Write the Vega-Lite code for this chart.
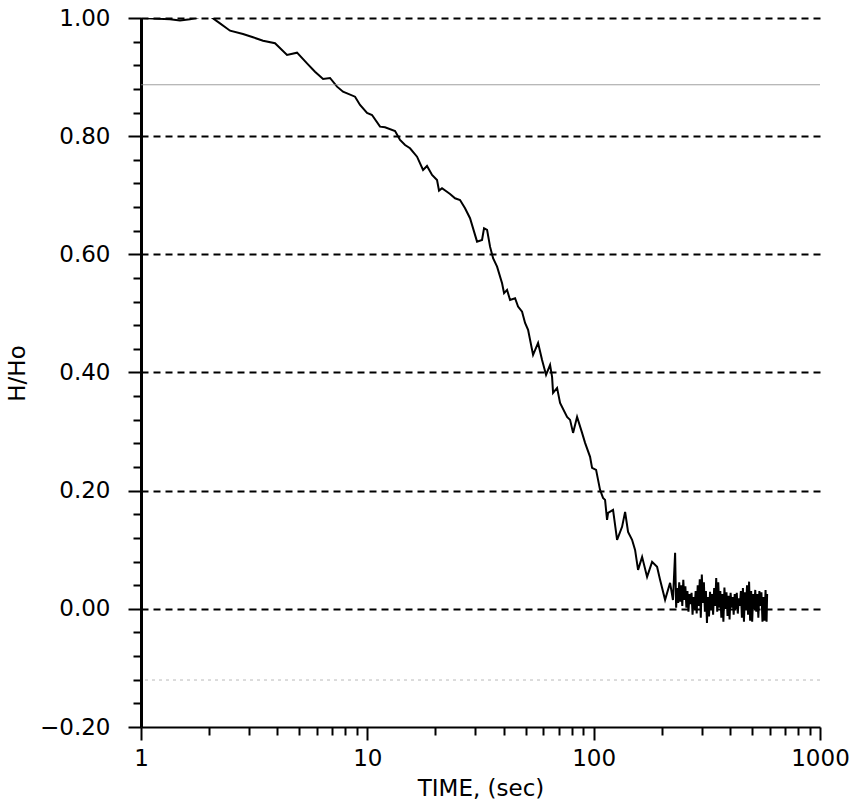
{
  "$schema": "https://vega.github.io/schema/vega-lite/v6.json",
  "width": 679,
  "height": 709,
  "autosize": {"type": "none"},
  "padding": {"left": 141, "top": 18, "right": 38, "bottom": 79},
  "background": "white",
  "config": {"view": {"stroke": null}, "font": "DejaVu Sans"},
  "datasets": {
    "curve": [
      {"t": 1.0, "h": 1.0}, {"t": 1.343, "h": 0.9978}, {"t": 1.487, "h": 0.9959}, {"t": 1.646, "h": 0.9978},
      {"t": 1.823, "h": 1.002}, {"t": 2.018, "h": 1.003}, {"t": 2.234, "h": 0.991}, {"t": 2.474, "h": 0.9785},
      {"t": 2.823, "h": 0.9729}, {"t": 3.126, "h": 0.9673}, {"t": 3.461, "h": 0.9616}, {"t": 3.91, "h": 0.9572},
      {"t": 4.418, "h": 0.9374}, {"t": 4.891, "h": 0.9413}, {"t": 5.414, "h": 0.9233}, {"t": 5.872, "h": 0.9091},
      {"t": 6.373, "h": 0.8968}, {"t": 6.842, "h": 0.8985}, {"t": 7.348, "h": 0.8838}, {"t": 7.809, "h": 0.8753},
      {"t": 8.823, "h": 0.8668}, {"t": 9.286, "h": 0.8528}, {"t": 9.97, "h": 0.8393}, {"t": 10.49, "h": 0.8359},
      {"t": 11.38, "h": 0.8161}, {"t": 11.97, "h": 0.8151}, {"t": 13.26, "h": 0.8088}, {"t": 13.95, "h": 0.7936},
      {"t": 14.68, "h": 0.7851}, {"t": 15.44, "h": 0.7795}, {"t": 16.58, "h": 0.7653}, {"t": 17.63, "h": 0.7428},
      {"t": 18.35, "h": 0.7496}, {"t": 19.32, "h": 0.7343}, {"t": 20.32, "h": 0.7259}, {"t": 20.74, "h": 0.7078},
      {"t": 21.38, "h": 0.7118}, {"t": 23.2, "h": 0.7022}, {"t": 24.41, "h": 0.6949}, {"t": 25.68, "h": 0.692},
      {"t": 27.02, "h": 0.678}, {"t": 28.43, "h": 0.6611}, {"t": 30.53, "h": 0.6215}, {"t": 32.12, "h": 0.6244},
      {"t": 32.78, "h": 0.6442}, {"t": 33.81, "h": 0.6413}, {"t": 34.85, "h": 0.613}, {"t": 35.94, "h": 0.5934},
      {"t": 37.43, "h": 0.5792}, {"t": 39.38, "h": 0.5511}, {"t": 40.19, "h": 0.5342}, {"t": 41.43, "h": 0.5398},
      {"t": 42.72, "h": 0.5228}, {"t": 44.95, "h": 0.5257}, {"t": 46.34, "h": 0.5115}, {"t": 48.27, "h": 0.503},
      {"t": 49.77, "h": 0.4839}, {"t": 51.31, "h": 0.4721}, {"t": 53.99, "h": 0.4298}, {"t": 56.81, "h": 0.4501},
      {"t": 59.16, "h": 0.4213}, {"t": 61.62, "h": 0.3959}, {"t": 64.18, "h": 0.4129}, {"t": 65.5, "h": 0.3926},
      {"t": 66.17, "h": 0.3655}, {"t": 68.92, "h": 0.3739}, {"t": 71.05, "h": 0.3486}, {"t": 76.3, "h": 0.3249},
      {"t": 78.66, "h": 0.3198}, {"t": 81.1, "h": 0.2978}, {"t": 84.47, "h": 0.3249}, {"t": 88.88, "h": 0.2978},
      {"t": 91.63, "h": 0.2809}, {"t": 96.41, "h": 0.2572}, {"t": 98.38, "h": 0.2386}, {"t": 102.5, "h": 0.2352},
      {"t": 106.7, "h": 0.2014}, {"t": 110.0, "h": 0.1878}, {"t": 112.3, "h": 0.1844}, {"t": 114.6, "h": 0.1506},
      {"t": 115.8, "h": 0.1624}, {"t": 121.8, "h": 0.1675}, {"t": 126.9, "h": 0.1168}, {"t": 133.5, "h": 0.1388},
      {"t": 137.7, "h": 0.1641}, {"t": 141.9, "h": 0.1303}, {"t": 147.8, "h": 0.1168}, {"t": 152.4, "h": 0.0998},
      {"t": 157.1, "h": 0.066}, {"t": 163.7, "h": 0.088}, {"t": 172.2, "h": 0.0541}, {"t": 181.2, "h": 0.0795},
      {"t": 190.6, "h": 0.0711}, {"t": 196.5, "h": 0.0491}, {"t": 206.8, "h": 0.0152}, {"t": 217.6, "h": 0.044},
      {"t": 224.0, "h": 0.015},
      {"t": 229.0, "h": 0.095}, {"t": 231.4, "h": 0.002}, {"t": 233.8, "h": 0.035}, {"t": 236.3, "h": 0.01},
      {"t": 238.8, "h": 0.045}, {"t": 241.3, "h": 0.012}, {"t": 243.8, "h": 0.04}, {"t": 246.4, "h": 0.005},
      {"t": 248.9, "h": 0.049}, {"t": 251.6, "h": 0.015}, {"t": 254.2, "h": 0.038}, {"t": 256.9, "h": 0.002},
      {"t": 259.6, "h": 0.03}, {"t": 262.3, "h": -0.005}, {"t": 265.1, "h": 0.025}, {"t": 267.8, "h": 0.008},
      {"t": 270.7, "h": 0.027}, {"t": 273.5, "h": -0.01}, {"t": 276.4, "h": 0.02}, {"t": 279.3, "h": 0.0},
      {"t": 282.2, "h": 0.03}, {"t": 285.2, "h": -0.008}, {"t": 288.2, "h": 0.04}, {"t": 291.2, "h": 0.005},
      {"t": 294.3, "h": 0.05}, {"t": 297.4, "h": -0.015}, {"t": 300.5, "h": 0.058}, {"t": 303.7, "h": 0.01},
      {"t": 306.9, "h": 0.045}, {"t": 310.1, "h": -0.005}, {"t": 313.3, "h": 0.03}, {"t": 316.6, "h": -0.024},
      {"t": 320.0, "h": 0.02}, {"t": 323.3, "h": -0.013}, {"t": 326.7, "h": 0.029}, {"t": 330.2, "h": 0.0},
      {"t": 333.6, "h": 0.025}, {"t": 337.1, "h": -0.01}, {"t": 340.7, "h": 0.035}, {"t": 344.3, "h": 0.005},
      {"t": 347.9, "h": 0.052}, {"t": 351.5, "h": -0.005}, {"t": 355.2, "h": 0.045}, {"t": 358.9, "h": 0.002},
      {"t": 362.7, "h": 0.03}, {"t": 366.5, "h": -0.015}, {"t": 370.4, "h": 0.025}, {"t": 374.3, "h": -0.022},
      {"t": 378.2, "h": 0.036}, {"t": 382.2, "h": 0.0}, {"t": 386.2, "h": 0.028}, {"t": 390.3, "h": -0.012},
      {"t": 394.4, "h": 0.022}, {"t": 398.5, "h": -0.018}, {"t": 402.7, "h": 0.027}, {"t": 406.9, "h": 0.002},
      {"t": 411.2, "h": 0.02}, {"t": 415.5, "h": -0.01}, {"t": 419.9, "h": 0.025}, {"t": 424.3, "h": 0.0},
      {"t": 428.8, "h": 0.027}, {"t": 433.3, "h": -0.008}, {"t": 437.8, "h": 0.018}, {"t": 442.4, "h": 0.005},
      {"t": 447.1, "h": 0.03}, {"t": 451.8, "h": -0.015}, {"t": 456.5, "h": 0.035}, {"t": 461.3, "h": -0.022},
      {"t": 466.2, "h": 0.028}, {"t": 471.1, "h": 0.0}, {"t": 476.0, "h": 0.04}, {"t": 481.0, "h": -0.01},
      {"t": 486.1, "h": 0.046}, {"t": 491.2, "h": -0.02}, {"t": 496.4, "h": 0.03}, {"t": 501.6, "h": -0.022},
      {"t": 506.9, "h": 0.025}, {"t": 512.2, "h": 0.0}, {"t": 517.6, "h": 0.032}, {"t": 523.0, "h": -0.005},
      {"t": 528.5, "h": 0.025}, {"t": 534.1, "h": -0.015}, {"t": 539.7, "h": 0.03}, {"t": 545.4, "h": 0.005},
      {"t": 551.1, "h": 0.028}, {"t": 556.9, "h": -0.022}, {"t": 562.8, "h": 0.02}, {"t": 568.7, "h": -0.02},
      {"t": 574.7, "h": 0.032}, {"t": 580.7, "h": -0.022}, {"t": 584.0, "h": 0.025}
    ]
  },
  "layer": [
    {
      "data": {"name": "curve"},
      "mark": {"type": "line", "color": "black", "strokeWidth": 2, "clip": true},
      "encoding": {
        "x": {
          "field": "t",
          "type": "quantitative",
          "scale": {"type": "log", "domain": [1, 1000], "nice": false},
          "axis": {
            "title": "TIME,  (sec)",
            "values": [1,2,3,4,5,6,7,8,9,10,20,30,40,50,60,70,80,90,100,200,300,400,500,600,700,800,900,1000],
            "tickCount": 200,
            "format": "d",
            "labelExpr": "abs(log(datum.value)/LN10 - round(log(datum.value)/LN10)) < 0.001 ? datum.label : ''",
            "grid": false,
            "domainColor": "black",
            "domainWidth": 2,
            "tickColor": "black",
            "tickWidth": 2,
            "tickSize": {"condition": {"test": "abs(log(datum.value)/LN10 - round(log(datum.value)/LN10)) < 0.001", "value": 13}, "value": 8},
            "labelFont": "DejaVu Sans",
            "labelFontSize": 23,
            "labelColor": "black",
            "labelPadding": 7,
            "labelFlush": false,
            "labelOverlap": false,
            "titleFont": "DejaVu Sans",
            "titleFontSize": 23,
            "titleFontWeight": "normal",
            "titleColor": "black",
            "titleBaseline": "alphabetic",
            "titleY": 68
          }
        },
        "y": {
          "field": "h",
          "type": "quantitative",
          "scale": {"domain": [-0.2, 1.0], "nice": false, "zero": false},
          "axis": {
            "title": "H/Ho",
            "values": [-0.2,-0.16,-0.12,-0.08,-0.04,0,0.04,0.08,0.12,0.16,0.2,0.24,0.28,0.32,0.36,0.4,0.44,0.48,0.52,0.56,0.6,0.64,0.68,0.72,0.76,0.8,0.84,0.88,0.92,0.96,1.0],
            "tickCount": 200,
            "format": ".2f",
            "labelExpr": "abs(datum.value*5 - round(datum.value*5)) < 0.001 ? datum.label : ''",
            "grid": true,
            "gridColor": "black",
            "gridWidth": 2,
            "gridDash": [7, 5],
            "gridOpacity": {"condition": {"test": "abs(datum.value*5 - round(datum.value*5)) < 0.001 && datum.value > -0.1", "value": 1}, "value": 0},
            "domainColor": "black",
            "domainWidth": 3,
            "tickColor": "black",
            "tickWidth": 2,
            "tickSize": {"condition": {"test": "abs(datum.value*5 - round(datum.value*5)) < 0.001", "value": 13}, "value": 8},
            "labelFont": "DejaVu Sans",
            "labelFontSize": 23,
            "labelColor": "black",
            "labelPadding": 18,
            "labelFlush": false,
            "labelOverlap": false,
            "titleFont": "DejaVu Sans",
            "titleFontSize": 23,
            "titleFontWeight": "normal",
            "titleColor": "black",
            "titleAngle": 270,
            "titleAlign": "center",
            "titleBaseline": "middle",
            "titleX": -124,
            "titleY": 355
          }
        }
      }
    },
    {
      "data": {"values": [{"h": 0.887}]},
      "mark": {"type": "rule", "color": "#8a8a8a", "strokeWidth": 1, "opacity": 0.8},
      "encoding": {"y": {"field": "h", "type": "quantitative"}}
    },
    {
      "data": {"values": [{"h": -0.1205}]},
      "mark": {"type": "rule", "color": "#9a9a9a", "strokeWidth": 1, "strokeDash": [3, 4], "opacity": 0.7},
      "encoding": {"y": {"field": "h", "type": "quantitative"}}
    }
  ]
}
